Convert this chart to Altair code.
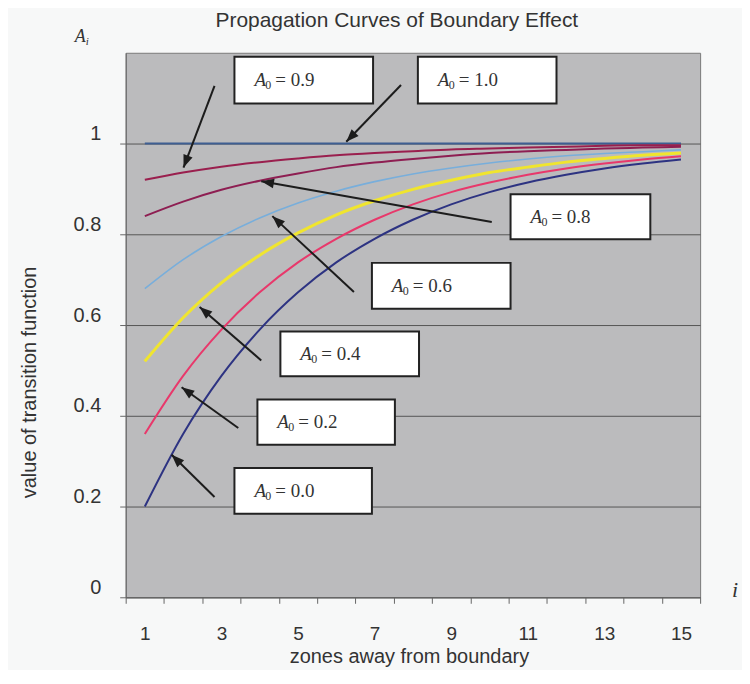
import math
import altair as alt
import pandas as pd

# ---------------- data ----------------
zones = [1, 2, 3, 4, 5, 6, 7, 8, 9, 10, 11, 12, 13, 14, 15]

series_names = ["1.0", "0.9", "0.8", "0.6", "0.4", "0.2", "0.0"]
a0_10 = [1.000, 1.000, 1.000, 1.000, 1.000, 1.000, 1.000, 1.000, 1.000, 1.000, 1.000, 1.000, 1.000, 1.000, 1.000]
a0_09 = [0.920, 0.936, 0.949, 0.959, 0.967, 0.974, 0.979, 0.983, 0.987, 0.989, 0.991, 0.993, 0.995, 0.996, 0.996]
a0_08 = [0.840, 0.872, 0.898, 0.918, 0.934, 0.948, 0.958, 0.966, 0.973, 0.979, 0.983, 0.986, 0.989, 0.991, 0.993]
a0_06 = [0.680, 0.744, 0.795, 0.836, 0.869, 0.895, 0.916, 0.933, 0.946, 0.957, 0.966, 0.973, 0.978, 0.982, 0.986]
a0_04 = [0.520, 0.616, 0.693, 0.754, 0.803, 0.843, 0.874, 0.899, 0.919, 0.936, 0.948, 0.959, 0.967, 0.974, 0.979]
a0_02 = [0.360, 0.488, 0.590, 0.672, 0.738, 0.790, 0.832, 0.866, 0.893, 0.914, 0.931, 0.945, 0.956, 0.965, 0.972]
a0_00 = [0.200, 0.360, 0.488, 0.590, 0.672, 0.738, 0.790, 0.832, 0.866, 0.893, 0.914, 0.931, 0.945, 0.956, 0.965]
series_values = [a0_10, a0_09, a0_08, a0_06, a0_04, a0_02, a0_00]

x_tick_values = [0.5, 1.5, 2.5, 3.5, 4.5, 5.5, 6.5, 7.5, 8.5, 9.5, 10.5, 11.5, 12.5, 13.5, 14.5, 15.5]
y_tick_values = [0, 0.2, 0.4, 0.6, 0.8, 1.0]

chart_title = "Propagation Curves of Boundary Effect"

# annotation boxes and arrows (data coordinates)
note_labels = ["0.9", "1.0", "0.8", "0.6", "0.4", "0.2", "0.0"]
box_left = [3.34, 8.13, 10.55, 6.93, 4.54, 3.94, 3.34]
box_right = [6.96, 11.75, 14.20, 10.55, 8.16, 7.53, 6.93]
box_top = [1.191, 1.191, 0.888, 0.737, 0.586, 0.436, 0.285]
box_bottom = [1.088, 1.088, 0.789, 0.636, 0.487, 0.336, 0.184]
tail_x = [2.82, 7.69, 10.06, 6.46, 4.04, 3.44, 2.82]
tail_y = [1.127, 1.129, 0.827, 0.673, 0.522, 0.373, 0.221]
head_x = [2.01, 6.26, 4.04, 4.33, 2.43, 1.96, 1.70]
head_y = [0.947, 1.004, 0.917, 0.840, 0.640, 0.463, 0.314]

# ---------------- styles ----------------
series_colors = ["#3E5E92", "#9A1F4E", "#8E1E52", "#78AEDB", "#F0E52E", "#E8386B", "#2D3382"]
series_widths = [2, 2, 2, 1.6, 3, 2, 2]

W, H = 576, 546
X_DOM = [0.5, 15.5]
Y_DOM = [0, 1.2]
px_x = W / (X_DOM[1] - X_DOM[0])
px_y = H / (Y_DOM[1] - Y_DOM[0])

SANS = "Liberation Sans"
SERIF = "Liberation Serif"
TXT = "#333333"

rows = []
for name, vals, w in zip(series_names, series_values, series_widths):
    for z, v in zip(zones, vals):
        rows.append({"x": z, "y": v, "series": name, "w": w})
lines_df = pd.DataFrame(rows)

angles = []
for tx, ty, hx, hy in zip(tail_x, tail_y, head_x, head_y):
    dx = (hx - tx) * px_x
    dy = -(hy - ty) * px_y
    angles.append(math.degrees(math.atan2(dx, -dy)) % 360)

notes_df = pd.DataFrame({
    "label": note_labels,
    "rest": ["= " + s for s in note_labels],
    "bl": box_left, "br": box_right, "bt": box_top, "bb": box_bottom,
    "bm": [(a + b) / 2 for a, b in zip(box_top, box_bottom)],
    "tx": tail_x, "ty": tail_y, "hx": head_x, "hy": head_y,
    "ang": angles,
})

xs = alt.Scale(domain=X_DOM, nice=False, zero=False)
ys = alt.Scale(domain=Y_DOM, nice=False, zero=False)

xax = alt.Axis(
    title="zones away from boundary",
    values=x_tick_values,
    labelExpr="(datum.value + 0.5) % 2 == 1 ? format(datum.value + 0.5, 'd') : ''",
    labelOffset=px_x / 2,
    labelFlush=False,
    labelOverlap=False,
    grid=False,
    tickSize=6, tickColor="#666666", domainColor="#666666",
    labelFont=SANS, labelFontSize=19, labelColor=TXT, labelPadding=21,
    titleFont=SANS, titleFontSize=20, titleFontWeight="normal", titleColor=TXT,
    titleX=284, titleY=59, titleBaseline="middle", titleAlign="center",
)
yax = alt.Axis(
    title="value of transition function",
    values=y_tick_values,
    format="~g",
    grid=True, gridColor="#555555", gridWidth=1,
    tickSize=6, tickColor="#666666", domainColor="#666666",
    labelFont=SANS, labelFontSize=20, labelColor=TXT, labelPadding=19,
    labelOffset=-10,
    titleFont=SANS, titleFontSize=20, titleFontWeight="normal", titleColor=TXT,
    titleX=-96, titleY=330, titleAngle=270, titleAlign="center", titleBaseline="middle",
)


def X(f):
    return alt.X(f, type="quantitative", scale=xs, axis=xax)


def Y(f):
    return alt.Y(f, type="quantitative", scale=ys, axis=yax)


lines = alt.Chart(lines_df).mark_line(interpolate="monotone").encode(
    x=X("x"), y=Y("y"),
    color=alt.Color("series:N", scale=alt.Scale(domain=series_names, range=series_colors), legend=None),
    strokeWidth=alt.StrokeWidth("w:Q", scale=None),
)

base = alt.Chart(notes_df)
arrows = base.mark_rule(color="#1c1c1c", strokeWidth=2).encode(
    x=X("tx"), y=Y("ty"), x2="hx", y2="hy"
)
heads = base.mark_point(
    shape="M0,0L-0.38,1L0.38,1Z", filled=True, color="#1c1c1c", size=650, opacity=1, strokeWidth=0
).encode(x=X("hx"), y=Y("hy"), angle=alt.Angle("ang:Q", scale=None))
boxes = base.mark_rect(fill="white", stroke="#222222", strokeWidth=2).encode(
    x=X("bl"), x2="br", y=Y("bb"), y2="bt"
)
txt_a = base.mark_text(align="left", baseline="middle", dx=20, font=SERIF, fontSize=19,
                       fontStyle="italic", color=TXT).encode(
    x=X("bl"), y=Y("bm"), text=alt.value("A"))
txt_sub = base.mark_text(align="left", baseline="middle", dx=31, dy=5, font=SERIF, fontSize=12,
                         color=TXT).encode(x=X("bl"), y=Y("bm"), text=alt.value("0"))
txt_rest = base.mark_text(align="left", baseline="middle", dx=41, font=SERIF, fontSize=19,
                          color=TXT).encode(x=X("bl"), y=Y("bm"), text="rest:N")

corner_df = pd.DataFrame({
    "x": [-0.83], "y": [1.235], "ix": [16.33], "iy": [0.015],
    "tx": [7.58], "ty": [1.270], "title": [chart_title],
})
ai_a = alt.Chart(corner_df).mark_text(align="left", baseline="middle", font=SERIF, fontSize=18,
                                      fontStyle="italic", color=TXT).encode(
    x=X("x"), y=Y("y"), text=alt.value("A"))
ai_i = alt.Chart(corner_df).mark_text(align="left", baseline="middle", dx=11, dy=5, font=SERIF,
                                      fontSize=11, fontStyle="italic", color=TXT).encode(
    x=X("x"), y=Y("y"), text=alt.value("i"))
i_lab = alt.Chart(corner_df).mark_text(align="left", baseline="middle", font=SERIF, fontSize=22,
                                       fontStyle="italic", color=TXT).encode(
    x=X("ix"), y=Y("iy"), text=alt.value("i"))
title_mark = alt.Chart(corner_df).mark_text(align="center", baseline="middle", font=SANS,
                                            fontSize=21, color=TXT).encode(
    x=X("tx"), y=Y("ty"), text="title:N")

chart = alt.layer(
    lines, arrows, heads, boxes, txt_a, txt_sub, txt_rest, ai_a, ai_i, i_lab, title_mark
).properties(
    width=W, height=H,
    autosize=alt.AutoSizeParams(type="none"),
    padding={"left": 118, "top": 44, "right": 42, "bottom": 72},
    background="#F7F8F8",
).configure_view(fill="#BBBBBD", stroke="#7A7A7A", strokeWidth=1)

chart.save("out.html", embed_options={"renderer": "svg", "actions": False})
